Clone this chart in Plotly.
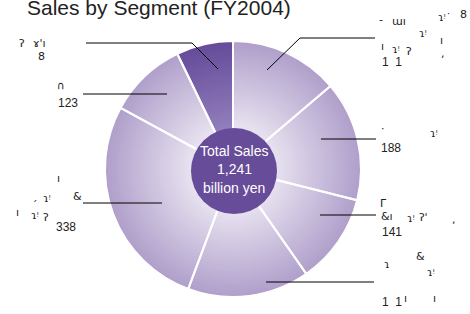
import plotly.graph_objects as go

# ---- data (clockwise from 12 o'clock) ----
segments = ["Seg A", "Seg B", "Seg C", "Seg D", "Seg E", "Seg F", "Seg G"]
sales = [171, 188, 141, 191, 338, 123, 89]
total_sales = 1241
title_text = "Sales by Segment (FY2004)"
center_lines = ["Total Sales", "1,241", "billion yen"]

W, H = 470, 314
CX, CY, R = 233, 169, 128
R_IN = 43
CCX, CCY = 234, 171

def px(x):
    return x / W

def py(y):
    return 1 - y / H

def dom(cx, cy, r):
    return dict(x=[px(cx - r), px(cx + r)], y=[py(cy + r), py(cy - r)])

def mix(c1, c2, t):
    return "rgb(%d,%d,%d)" % tuple(round(a + (b - a) * t) for a, b in zip(c1, c2))

light_in, light_out = (232, 226, 240), (176, 160, 203)
dark_in, dark_out = (146, 126, 188), (102, 76, 154)

fig = go.Figure()
N = 28
for i in range(N):
    r = R - (R - R_IN + 4) * i / N
    t = (R - r) / (R - R_IN)
    cl = mix(light_out, light_in, min(t, 1))
    cd = mix(dark_out, dark_in, min(t, 1))
    cols = [cl] * (len(sales) - 1) + [cd]
    fig.add_trace(go.Pie(values=sales, labels=segments, sort=False, direction="clockwise",
                         rotation=0, domain=dom(CX, CY, r), marker=dict(colors=cols, line=dict(width=0)),
                         textinfo="none", hoverinfo="skip", showlegend=False))

# white separators
fig.add_trace(go.Pie(values=sales, labels=segments, sort=False, direction="clockwise", rotation=0,
                     domain=dom(CX, CY, R), marker=dict(colors=["rgba(0,0,0,0)"] * len(sales),
                     line=dict(color="white", width=2)),
                     textinfo="none", hoverinfo="skip", showlegend=False))
# center disc
fig.add_trace(go.Pie(values=[total_sales], labels=["Total"], sort=False, domain=dom(CCX, CCY, R_IN),
                     marker=dict(colors=["#674c99"], line=dict(width=0)),
                     textinfo="none", hoverinfo="skip", showlegend=False))

# leader lines (pixel polylines)
leaders = [
    [(86, 43), (192, 43), (218, 69)],
    [(267, 70), (300, 38), (375, 38)],
    [(83, 94), (167, 94)],
    [(83, 203), (162, 203)],
    [(321, 139), (376, 139)],
    [(320, 215), (376, 215)],
    [(266, 282), (374, 282)],
]
shapes = []
for pts in leaders:
    for (x0, y0), (x1, y1) in zip(pts[:-1], pts[1:]):
        shapes.append(dict(type="line", xref="paper", yref="paper", x0=px(x0), y0=py(y0),
                           x1=px(x1), y1=py(y1), line=dict(color="black", width=1)))

ann = []
ann.append(dict(text=title_text, x=px(25), y=py(8), xref="paper", yref="paper", xanchor="left",
                yanchor="middle", showarrow=False,
                font=dict(family="Liberation Sans, Arial", size=21, color="#222222")))
for i, (t, yy) in enumerate(zip(center_lines, [151, 169, 188])):
    ann.append(dict(text=t, x=px(CCX), y=py(yy), xref="paper", yref="paper", xanchor="center",
                    yanchor="middle", showarrow=False,
                    font=dict(family="Liberation Sans, Arial", size=14, color="white")))

# value labels
num_labels = [(str(sales[5]), 56, 103), (str(sales[4]), 54, 227), (str(sales[1]), 379, 148),
              (str(sales[2]), 380, 232), ("1  1", 380, 62), ("1  1", 380, 302)]
for t, x, y in num_labels:
    ann.append(dict(text=t, x=px(x), y=py(y), xref="paper", yref="paper", xanchor="left",
                    yanchor="middle", showarrow=False,
                    font=dict(family="Liberation Sans, Arial", size=12, color="#222222")))

# garbled glyph fragments of the original labels
frags = [
    ("ʔ", 17, 44), ("ɤ'ı", 31, 44), ("8", 36, 57),
    ("-", 377, 20), ("ɯı", 390, 22), ("ɿᵎ˙", 436, 18), ("8", 458, 15),
    ("ı", 379, 47), ("ɿᵎ", 390, 50), ("ʔ", 404, 52), ("ɿᵎ", 417, 34), ("ı", 438, 41), (",", 439, 54),
    ("∩", 55, 86),
    ("ı", 55, 178), ("ˏ", 30, 195), ("ɿᵎ", 41, 198), ("&", 71, 196),
    ("ı", 14, 212), ("ɿᵎ", 29, 215), ("ʔ", 41, 217),
    ("·", 379, 128), ("ɿᵎ", 428, 133),
    ("Γ", 378, 203), ("&ı", 379, 216), ("ɿᵎ", 405, 218), ("ʔ'", 417, 217), (",", 450, 219),
    ("ɿ", 382, 264), ("&", 414, 256), ("ɿᵎ", 425, 272), ("ı", 431, 298), ("ı", 402, 298),
]
for t, x, y in frags:
    ann.append(dict(text=t, x=px(x), y=py(y), xref="paper", yref="paper", xanchor="left",
                    yanchor="middle", showarrow=False,
                    font=dict(family="DejaVu Sans", size=11, color="#222222")))

fig.update_layout(width=W, height=H, margin=dict(l=0, r=0, t=0, b=0),
                  paper_bgcolor="white", plot_bgcolor="white",
                  shapes=shapes, annotations=ann, showlegend=False)
fig.write_html("out.html", config={"displayModeBar": False},
               post_script="document.body.style.margin='0px';")
